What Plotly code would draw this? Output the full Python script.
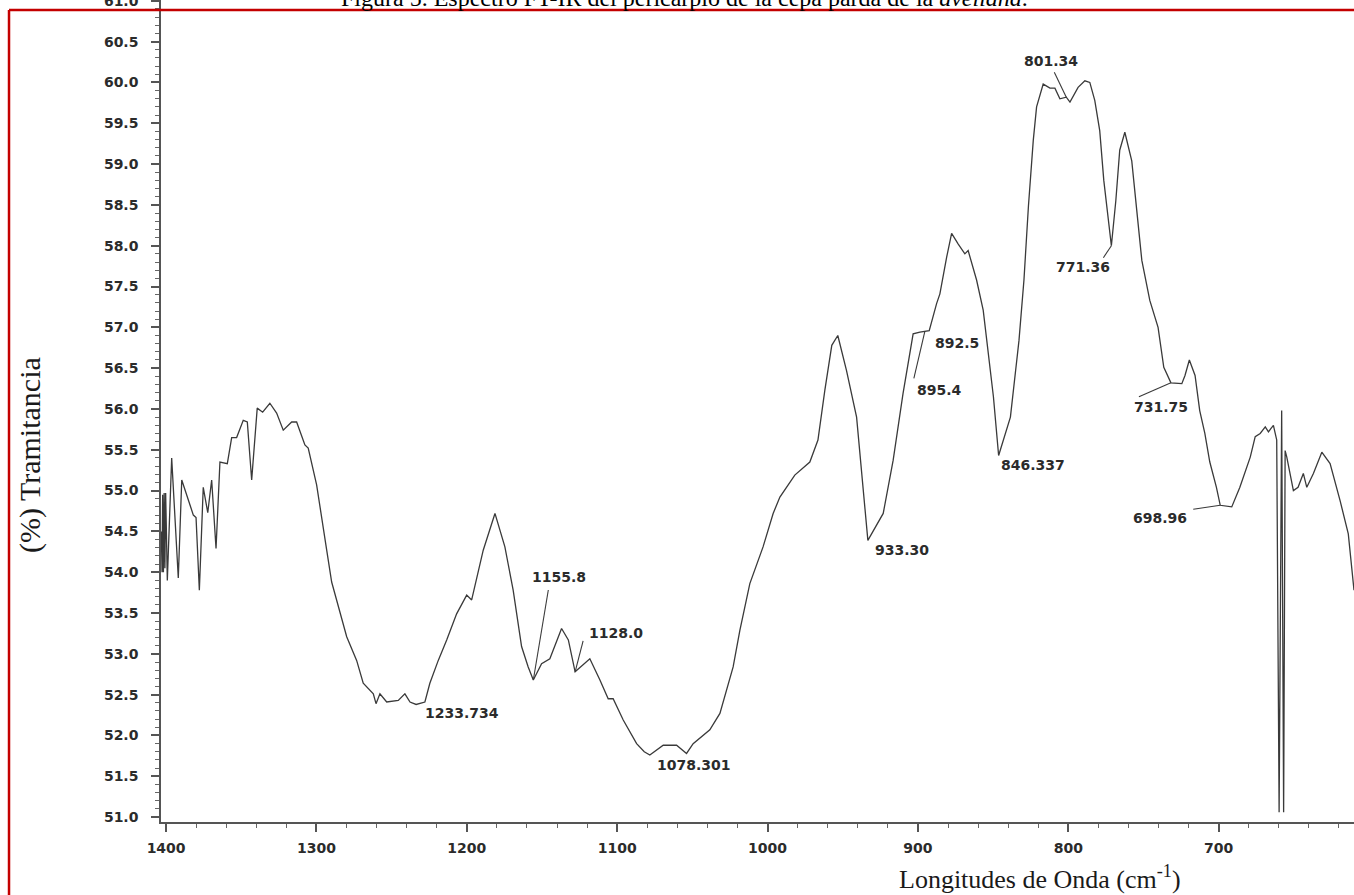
import plotly.graph_objects as go

# FT-IR spectrum, wavenumber (cm-1) vs transmittance (%)
wavenumber = [
    1403.2, 1402.7, 1402.3, 1401.8, 1401.3, 1400.8, 1400.3, 1399.2, 1396.3, 1391.9,
    1389.6, 1381.9, 1380.1, 1377.9, 1375.3, 1372.3, 1369.7, 1366.8, 1364.2, 1359.3,
    1356.4, 1353.1, 1348.7, 1346.0, 1343.1, 1339.4, 1335.8, 1331.0, 1326.5, 1322.1,
    1316.5, 1313.2, 1307.7, 1305.5, 1299.9, 1296.5, 1293.2, 1289.9, 1284.4, 1279.9,
    1273.3, 1268.9, 1262.2, 1260.4, 1257.8, 1253.3, 1245.6, 1241.2, 1237.8, 1233.734,
    1227.9, 1224.6, 1219.0, 1213.4, 1206.8, 1200.1, 1196.8, 1192.4, 1189.1, 1181.3,
    1174.7, 1169.2, 1163.6, 1159.2, 1155.8, 1150.3, 1144.8, 1137.0, 1132.5, 1128.0,
    1118.2, 1111.5, 1106.0, 1102.7, 1096.0, 1087.1, 1082.0, 1078.301, 1069.4, 1060.5,
    1053.9, 1049.5, 1038.4, 1031.7, 1022.9, 1018.4, 1011.8, 1003.0, 996.3, 991.8,
    981.9, 971.9, 966.5, 961.9, 957.3, 953.3, 947.5, 940.8, 937.5, 933.30,
    923.1, 916.5, 909.9, 906.5, 903.2, 898.7, 895.4, 892.5, 887.6, 885.4,
    880.9, 877.6, 873.2, 868.8, 866.6, 861.0, 856.6, 854.0, 849.8, 846.337,
    838.5, 832.8, 829.5, 826.5, 823.3, 821.1, 816.7, 812.2, 808.9, 805.6,
    801.34, 798.9, 793.5, 789.0, 785.7, 782.4, 779.1, 776.4, 771.36, 768.4,
    765.8, 762.4, 757.8, 753.8, 751.1, 745.8, 740.3, 736.5, 731.75, 724.5,
    722.4, 719.5, 715.7, 712.6, 709.2, 705.9, 701.5, 698.96, 691.3, 685.9,
    679.0, 675.7, 672.4, 669.0, 666.9, 663.6, 661.4, 659.8, 658.1, 656.8,
    655.8, 654.7, 650.3, 647.2, 643.7, 641.4, 637.0, 631.4, 625.9, 619.3,
    613.8, 610.0,
]
transmittance = [
    54.50, 54.00, 54.95, 54.00, 54.97, 54.05, 54.97, 53.90, 55.40, 53.93,
    55.13, 54.70, 54.67, 53.78, 55.04, 54.73, 55.13, 54.29, 55.35, 55.33,
    55.65, 55.65, 55.86, 55.84, 55.13, 56.01, 55.96, 56.07, 55.95, 55.74,
    55.84, 55.84, 55.56, 55.52, 55.07, 54.64, 54.27, 53.88, 53.50, 53.21,
    52.92, 52.64, 52.51, 52.39, 52.51, 52.41, 52.43, 52.51, 52.41, 52.38,
    52.41, 52.64, 52.92, 53.17, 53.49, 53.72, 53.66, 54.02, 54.27, 54.72,
    54.31, 53.78, 53.09, 52.84, 52.68, 52.88, 52.94, 53.31, 53.17, 52.78,
    52.94, 52.68, 52.45, 52.45, 52.19, 51.90, 51.80, 51.76, 51.88, 51.88,
    51.78, 51.90, 52.07, 52.27, 52.84, 53.29, 53.86, 54.31, 54.72, 54.92,
    55.19, 55.35, 55.62, 56.23, 56.78, 56.90, 56.47, 55.90, 55.21, 54.39,
    54.72, 55.37, 56.19, 56.59, 56.92, 56.94, 56.95, 56.96, 57.29, 57.41,
    57.86, 58.15, 58.02, 57.90, 57.94, 57.58, 57.21, 56.80, 56.15, 55.43,
    55.90, 56.84, 57.58, 58.49, 59.29, 59.70, 59.98, 59.93, 59.93, 59.80,
    59.82, 59.76, 59.94, 60.02, 60.00, 59.78, 59.41, 58.80, 58.00, 58.55,
    59.17, 59.39, 59.04, 58.31, 57.82, 57.33, 57.00, 56.51, 56.32, 56.31,
    56.41, 56.60, 56.41, 55.98, 55.70, 55.35, 55.04, 54.82, 54.80, 55.04,
    55.41, 55.66, 55.70, 55.78, 55.72, 55.80, 55.62, 51.06, 55.98, 51.06,
    55.49, 55.41, 55.00, 55.04, 55.21, 55.04, 55.21, 55.47, 55.33, 54.88,
    54.47, 53.78,
]
assert len(wavenumber) == len(transmittance)

# band labels written on the spectrum
peak_labels = ["1233.734", "1155.8", "1128.0", "1078.301", "933.30", "895.4",
               "892.5", "846.337", "801.34", "771.36", "731.75", "698.96"]

# label centre offset (px, right/down) and leader-line end (px, right/down) per label
label_layout = {
    "1233.734": ((46, 9), None),
    "1155.8":   ((26, -103), (15, -90)),
    "1128.0":   ((41, -39), (8, -31)),
    "1078.301": ((44, 10), None),
    "933.30":   ((34, 10), None),
    "895.4":    ((15, 59), (-11, 47)),
    "892.5":    ((28, 12), None),
    "846.337":  ((34, 10), None),
    "801.34":   ((-15, -36), (-12, -25)),
    "771.36":   ((-28, 21), (-8, 12)),
    "731.75":   ((-10, 24), (-32, 14)),
    "698.96":   ((-60, 13), (-27, 4)),
}

INK = "#2b2b2b"
AXIS = "#555555"
tick_font = dict(family="DejaVu Sans", size=14, color=INK, weight="bold")
serif = "Liberation Serif, Times New Roman, serif"

fig = go.Figure()
fig.add_trace(go.Scatter(
    x=wavenumber, y=transmittance, mode="lines",
    line=dict(color="#3a3a3a", width=1.3), hoverinfo="skip", showlegend=False,
))

annotations = []
shapes = []
for lab in peak_labels:
    xv = float(lab)
    yv = transmittance[wavenumber.index(xv)]
    (dx, dy), leader = label_layout[lab]
    annotations.append(dict(
        x=xv, y=yv, xref="x", yref="y", text=lab, showarrow=False,
        xshift=dx, yshift=-dy, font=tick_font,
    ))
    if leader:
        shapes.append(dict(
            type="line", xref="x", yref="y", xsizemode="pixel", ysizemode="pixel",
            xanchor=xv, yanchor=yv, x0=0, y0=0, x1=leader[0], y1=-leader[1],
            line=dict(color="#3a3a3a", width=1.1),
        ))

# frame lines around the figure
shapes.append(dict(type="line", xref="paper", yref="paper", x0=-0.1274, x1=1.05,
                   y0=0.98783, y1=0.98783, line=dict(color="#c40000", width=2.5)))
shapes.append(dict(type="line", xref="paper", yref="paper", x0=-0.1274, x1=-0.1274,
                   y0=0.98783, y1=-0.15, line=dict(color="#c40000", width=2.5)))

annotations += [
    dict(text="Figura 5. Espectro FT-IR del pericarpio de la cepa parda de la <i>avellana</i>.",
         xref="paper", yref="paper", x=0.4392, y=1.003, xanchor="center", yanchor="middle",
         showarrow=False, font=dict(family=serif, size=24, color="#000000")),
    dict(text="(%) Tramitancia", xref="paper", yref="paper", x=-0.1098, y=0.4465,
         xanchor="center", yanchor="middle", textangle=-90, showarrow=False,
         font=dict(family=serif, size=30, color="#1a1a1a")),
    dict(text="Longitudes de Onda (cm<sup>-1</sup>)", xref="paper", yref="paper",
         x=0.7368, y=-0.0681, xanchor="center", yanchor="middle", showarrow=False,
         font=dict(family=serif, size=26, color="#1a1a1a")),
]

fig.update_layout(
    width=1354, height=895,
    margin=dict(l=161, r=0, t=0, b=73, autoexpand=False),
    paper_bgcolor="white", plot_bgcolor="white",
    showlegend=False,
    annotations=annotations, shapes=shapes,
    xaxis=dict(
        range=[1403.4, 610.0], tickmode="linear", tick0=1400, dtick=100,
        ticks="outside", ticklen=8, tickwidth=1.5, tickcolor=AXIS,
        showline=True, linecolor=AXIS, linewidth=1.5, automargin=False,
        showgrid=False, zeroline=False, tickfont=tick_font, ticklabelstandoff=4,
        minor=dict(dtick=20, ticks="outside", ticklen=4, tickwidth=1.2,
                   tickcolor="#666666", showgrid=False),
    ),
    yaxis=dict(
        range=[50.94, 61.01], tickmode="linear", tick0=51, dtick=0.5, tickformat=".1f",
        ticks="outside", ticklen=8, tickwidth=1.5, tickcolor=AXIS,
        showline=True, linecolor=AXIS, linewidth=1.5, automargin=False,
        showgrid=False, zeroline=False, tickfont=tick_font, ticklabelstandoff=10,
        ticklabeloverflow="allow",
        minor=dict(dtick=0.1, ticks="outside", ticklen=4, tickwidth=1.2,
                   tickcolor="#666666", showgrid=False),
    ),
)

fig.write_html("out.html")
